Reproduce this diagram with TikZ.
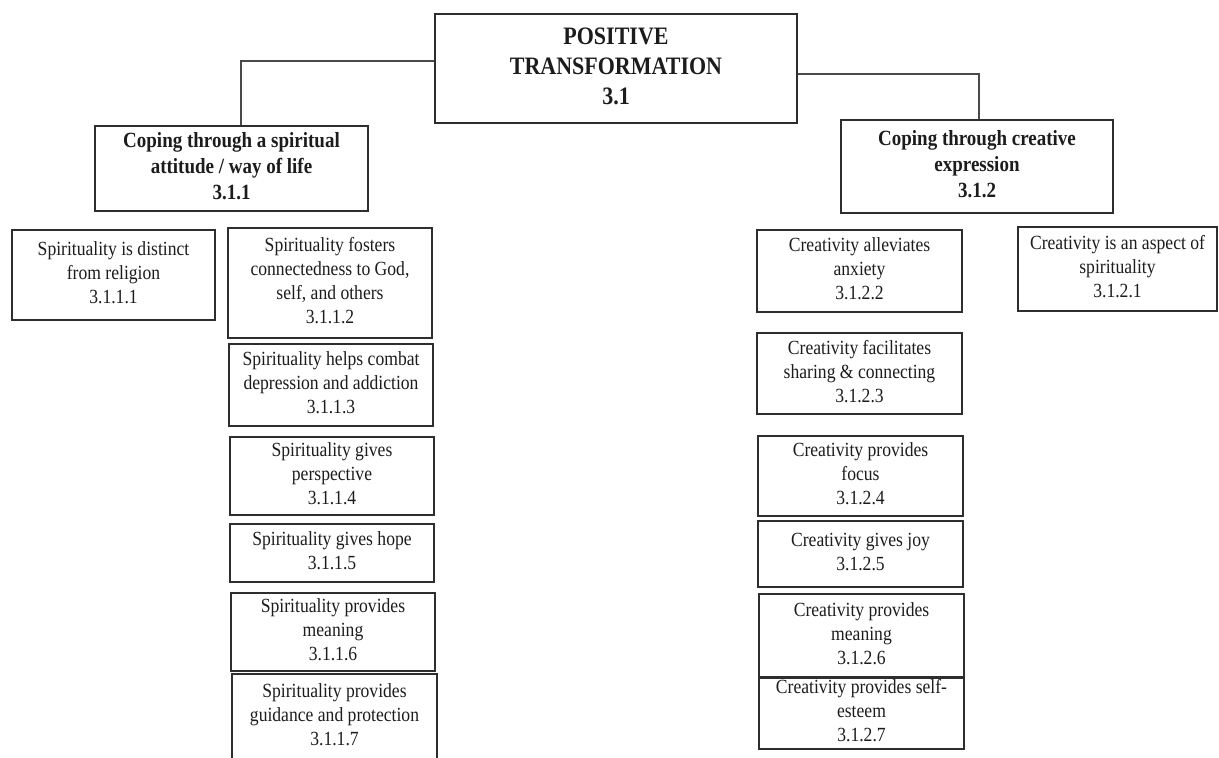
\documentclass[tikz,border=0pt]{standalone}
\usepackage{fontspec}
\usepackage{graphicx}
\setmainfont{Liberation Serif}
\definecolor{boxc}{HTML}{2E2E2E}
\definecolor{linec}{HTML}{4A4A4A}
\definecolor{txtc}{HTML}{1C1C1C}
\newcommand{\vstr}[1]{\scalebox{1}[1.14]{\begin{tabular}{@{}c@{}}#1\end{tabular}}}
\begin{document}
\begin{tikzpicture}[x=1pt,y=-1pt,
  box/.style={draw=boxc, line width=1.3pt, align=center, inner sep=0pt, text=txtc},
  leaf/.style={box, font=\fontsize{17.6}{21}\selectfont},
  head/.style={box, font=\fontsize{19}{22.8}\selectfont\bfseries},
  root/.style={box, font=\fontsize{22}{26.3}\selectfont\bfseries},
  conn/.style={draw=linec, line width=1.2pt}]
\useasboundingbox (0,0) rectangle (1219,758);

\node[root, minimum width=362pt, minimum height=109pt] (top) at (616,68.5)
  {\vstr{POSITIVE\\TRANSFORMATION\\3.1}};

\node[head, minimum width=273pt, minimum height=85pt] (A) at (231.5,168.5)
  {\vstr{Coping through a spiritual\\attitude / way of life\\3.1.1}};
\node[head, minimum width=272pt, minimum height=93pt] (B) at (977,166.5)
  {\vstr{Coping through creative\\expression\\3.1.2}};

\node[leaf, minimum width=203pt, minimum height=90pt] (A1) at (113.5,275)
  {\vstr{Spirituality is distinct\\from religion\\3.1.1.1}};
\node[leaf, minimum width=204pt, minimum height=110pt] (A2) at (330,283)
  {\vstr{Spirituality fosters\\connectedness to God,\\self, and others\\3.1.1.2}};
\node[leaf, minimum width=204pt, minimum height=82pt] (A3) at (331,385)
  {\vstr{Spirituality helps combat\\depression and addiction\\3.1.1.3}};
\node[leaf, minimum width=204pt, minimum height=78pt] (A4) at (332,476)
  {\vstr{Spirituality gives\\perspective\\3.1.1.4}};
\node[leaf, minimum width=204pt, minimum height=58pt] (A5) at (332,553)
  {\vstr{Spirituality gives hope\\3.1.1.5}};
\node[leaf, minimum width=204pt, minimum height=78pt] (A6) at (333,632)
  {\vstr{Spirituality provides\\meaning\\3.1.1.6}};
\node[leaf, minimum width=205pt, minimum height=86pt] (A7) at (334.5,717)
  {\vstr{Spirituality provides\\guidance and protection\\3.1.1.7}};

\node[leaf, minimum width=199pt, minimum height=84pt] (B1) at (1117.5,269)
  {\vstr{Creativity is an aspect of\\spirituality\\3.1.2.1}};
\node[leaf, minimum width=205pt, minimum height=82pt] (B2) at (859.5,271)
  {\vstr{Creativity alleviates\\anxiety\\3.1.2.2}};
\node[leaf, minimum width=205pt, minimum height=81pt] (B3) at (859.5,373.5)
  {\vstr{Creativity facilitates\\sharing \& connecting\\3.1.2.3}};
\node[leaf, minimum width=205pt, minimum height=80pt] (B4) at (860.5,476)
  {\vstr{Creativity provides\\focus\\3.1.2.4}};
\node[leaf, minimum width=205pt, minimum height=66pt] (B5) at (860.5,554)
  {\vstr{Creativity gives joy\\3.1.2.5}};
\node[leaf, minimum width=205pt, minimum height=84pt] (B6) at (861.5,636)
  {\vstr{Creativity provides\\meaning\\3.1.2.6}};
\node[leaf, minimum width=205pt, minimum height=70pt] (B7) at (861.5,713)
  {\vstr{Creativity provides self-\\esteem\\3.1.2.7}};

\coordinate (lj) at (241,61);
\coordinate (rj) at (979,74);
\draw[conn] (lj -| top.west) -- (lj) -- (lj |- A.north);
\draw[conn] (rj -| top.east) -- (rj) -- (rj |- B.north);
\end{tikzpicture}
\end{document}
